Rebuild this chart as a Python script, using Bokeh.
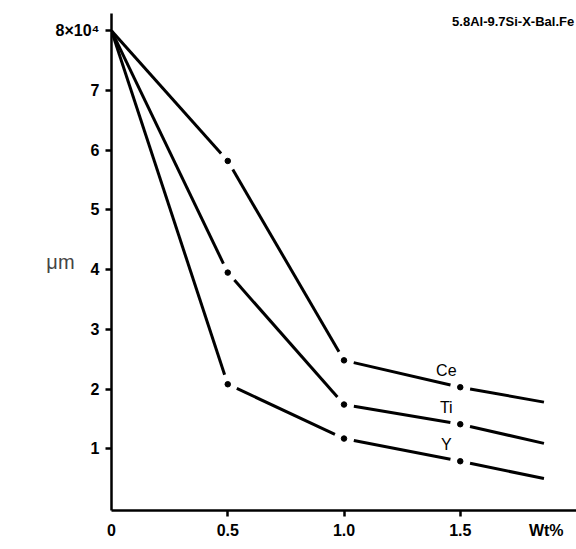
import numpy as np
from bokeh.plotting import figure
from bokeh.models import Label, Range1d, FixedTicker
from bokeh.embed import file_html
from bokeh.resources import INLINE

# ---- data ----
wt = [0.0, 0.5, 1.0, 1.5, 1.86]
ce = [8.0, 5.82, 2.48, 2.03, 1.78]
ti = [8.0, 3.95, 1.74, 1.41, 1.09]
yy = [8.0, 2.08, 1.17, 0.79, 0.50]
series = [("Ce", ce), ("Ti", ti), ("Y", yy)]
x_ticks = [0.5, 1.0, 1.5]
x_tick_labels = {0: "0", 0.5: "0.5", 1.0: "1.0", 1.5: "1.5"}
y_ticks = [1, 2, 3, 4, 5, 6, 7, 8]
y_tick_labels = {8: "8×10⁴"}
title_text = "5.8Al-9.7Si-X-Bal.Fe"
x_label = "Wt%"
y_label = "μm"

W, H = 576, 549
ML, MR, MT, MB = 111, 0, 13, 39
xr = (0.0, 2.0)
yrng = (-0.035, 8.29)
X_LABEL_POS = 1.87

p = figure(width=W, height=H, output_backend="svg", toolbar_location=None,
           x_range=Range1d(*xr), y_range=Range1d(*yrng),
           min_border_left=ML, min_border_right=MR, min_border_top=MT, min_border_bottom=MB)
p.outline_line_color = None
p.grid.visible = False
p.background_fill_color = "white"
p.border_fill_color = "white"

fw = W - ML - MR
fh = H - MT - MB
sx = fw / (xr[1] - xr[0])
sy = fh / (yrng[1] - yrng[0])
GAP = 10.0

for name, vals in series:
    xs, ys = [], []
    n = len(wt)
    for i in range(n - 1):
        x0, y0, x1, y1 = wt[i], vals[i], wt[i + 1], vals[i + 1]
        dxp, dyp = (x1 - x0) * sx, (y1 - y0) * sy
        L = np.hypot(dxp, dyp)
        ux, uy = dxp / L, dyp / L
        g0 = 0 if i == 0 else GAP
        g1 = 0 if i == n - 2 else GAP
        xs.append([x0 + ux * g0 / sx, x1 - ux * g1 / sx])
        ys.append([y0 + uy * g0 / sy, y1 - uy * g1 / sy])
    p.multi_line(xs, ys, line_color="black", line_width=3)
    p.scatter(wt[1:-1], vals[1:-1], size=5.5, color="black")
    p.add_layout(Label(x=wt[3] - 0.06, y=vals[3], text=name, text_align="center",
                       text_baseline="bottom", y_offset=8,
                       text_font="Liberation Sans", text_font_size="16px", text_color="black"))

for ax in (p.xaxis[0], p.yaxis[0]):
    ax.axis_line_width = 2.5
    ax.axis_line_color = "black"
    ax.major_tick_line_width = 2.5
    ax.major_tick_in = 0
    ax.major_tick_out = 6
    ax.minor_tick_line_color = None
    ax.major_label_text_font = "Liberation Sans"
    ax.major_label_text_font_style = "bold"
    ax.major_label_text_font_size = "16px"
    ax.major_label_text_color = "black"

# x axis: visible ticks drawn as "minor" ticks; the labels (incl. the unit) as major positions
labels_x = dict(x_tick_labels)
labels_x[X_LABEL_POS] = x_label
p.xaxis.ticker = FixedTicker(ticks=sorted(labels_x.keys()), minor_ticks=x_ticks)
p.xaxis.major_label_overrides = labels_x
p.xaxis.major_tick_line_color = None
p.xaxis.minor_tick_line_color = "black"
p.xaxis.minor_tick_line_width = 2.5
p.xaxis.minor_tick_in = 0
p.xaxis.minor_tick_out = 6
p.xaxis.major_label_standoff = 5

p.yaxis.ticker = FixedTicker(ticks=y_ticks)
p.yaxis.major_label_overrides = y_tick_labels
p.yaxis.major_label_standoff = 6

p.yaxis.axis_label = y_label
p.yaxis.axis_label_orientation = "horizontal"
p.yaxis.axis_label_text_font = "Liberation Sans"
p.yaxis.axis_label_text_font_style = "normal"
p.yaxis.axis_label_text_font_size = "20px"
p.yaxis.axis_label_standoff = -22

p.add_layout(Label(x=1.99, y=8.29, text=title_text, text_align="right", text_baseline="top",
                   text_font="Liberation Sans", text_font_style="bold", text_font_size="13px",
                   text_color="black"))

open("out.html", "w").write(file_html(p, INLINE))
